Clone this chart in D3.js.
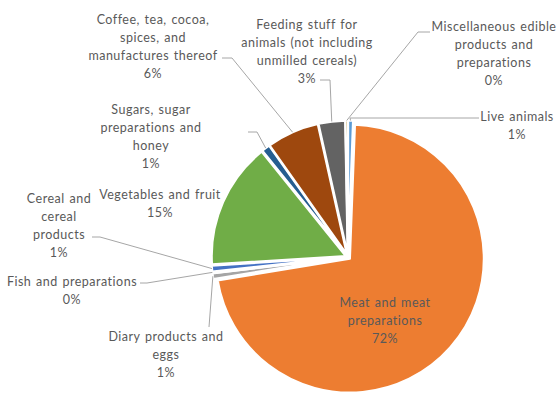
<!DOCTYPE html>
<html>
<head>
<meta charset="utf-8">
<script src="https://cdn.jsdelivr.net/npm/d3@7"></script>
<style>
  html, body { margin: 0; padding: 0; background: #fff; }
  svg { display: block; }
  .lbl { font-family: Lato, "Open Sans", sans-serif; font-size: 12.5px; letter-spacing: 0.5px; word-spacing: 1px; fill: #595959; }
</style>
</head>
<body>
<svg id="chart" width="557" height="393"></svg>
<script>
// Export shares by product group (percent of total)
const categories = [
  "Live animals",
  "Meat and meat preparations",
  "Diary products and eggs",
  "Fish and preparations",
  "Cereal and cereal products",
  "Vegetables and fruit",
  "Sugars, sugar preparations and honey",
  "Coffee, tea, cocoa, spices, and manufactures thereof",
  "Feeding stuff for animals (not including unmilled cereals)",
  "Miscellaneous edible products and preparations"
];
const shares = [0.6, 71.8, 0.7, 0.2, 0.7, 15.2, 1.0, 6.3, 3.2, 0.3];
const colors = ["#5B9BD5", "#ED7D31", "#A5A5A5", "#FFC000", "#4472C4",
                "#70AD47", "#255E91", "#9E480E", "#636363", "#997300"];

// Label text lines for each category (last line is the percentage)
const labelLines = [
  ["Live animals"],
  ["Meat and meat", "preparations"],
  ["Diary products and", "eggs"],
  ["Fish and preparations"],
  ["Cereal and", "cereal", "products"],
  ["Vegetables  and fruit"],
  ["Sugars, sugar", "preparations  and", "honey"],
  ["Coffee, tea, cocoa,", "spices, and", "manufactures  thereof"],
  ["Feeding stuff for", "animals (not including", "unmilled cereals)"],
  ["Miscellaneous edible", "products and", "preparations"]
];

const svg = d3.select("#chart");
const cx = 348, cy = 257, R = 134, explode = 2.5;

const pie = d3.pie().sort(null).value(d => d)
  .startAngle(0).endAngle(2 * Math.PI);
const arcs = pie(shares);
const total = d3.sum(shares);
const arc = d3.arc().innerRadius(0).outerRadius(R);

const g = svg.append("g").attr("transform", `translate(${cx},${cy})`);

function offset(a, r) {
  const m = (a.startAngle + a.endAngle) / 2;
  return [Math.sin(m) * r, -Math.cos(m) * r];
}

g.selectAll("path.slice").data(arcs).join("path")
  .attr("class", "slice")
  .attr("d", arc)
  .attr("transform", d => { const o = offset(d, explode); return `translate(${o[0]},${o[1]})`; })
  .attr("fill", (d, i) => colors[i])
  .attr("stroke", "#fff")
  .attr("stroke-width", 2.2)
  .attr("stroke-linejoin", "round");

// Label placement: text centre x, first line centre y, and leader elbow points
const layout = [
  { x: 517, y: 117, leader: [[479, 118], [350, 118]] },
  { x: 385, y: 303, leader: null },
  { x: 166, y: 337, leader: [[209, 327]] },
  { x: 72,  y: 282, leader: [[140, 283], [147, 283]] },
  { x: 59,  y: 199, leader: [[92, 237], [100, 237]] },
  { x: 160, y: 195, leader: null },
  { x: 151, y: 110, leader: [[248, 132], [257, 132]] },
  { x: 153, y: 20,  leader: [[222, 58], [232, 58]] },
  { x: 307, y: 25,  leader: [[320, 80], [330, 80]] },
  { x: 494, y: 27,  leader: [[430, 32], [418, 32]] }
];
const lineH = 18;

// Leader lines from the label to the slice's outer edge
arcs.forEach((a, i) => {
  const L = layout[i];
  if (!L.leader) return;
  const o = offset(a, R + explode);
  const end = [cx + o[0], cy + o[1]];
  const pts = L.leader.concat([end]);
  svg.append("path")
    .attr("d", d3.line()(pts))
    .attr("fill", "none")
    .attr("stroke", "#a6a6a6")
    .attr("stroke-width", 1);
});

// Label text
arcs.forEach((a, i) => {
  const L = layout[i];
  const pct = Math.round(shares[i] / total * 100) + "%";
  const lines = labelLines[i].concat([pct]);
  const t = svg.append("text").attr("class", "lbl").attr("text-anchor", "middle");
  lines.forEach((s, k) => {
    t.append("tspan").attr("x", L.x).attr("y", L.y + k * lineH + 4).text(s);
  });
});
</script>
</body>
</html>
